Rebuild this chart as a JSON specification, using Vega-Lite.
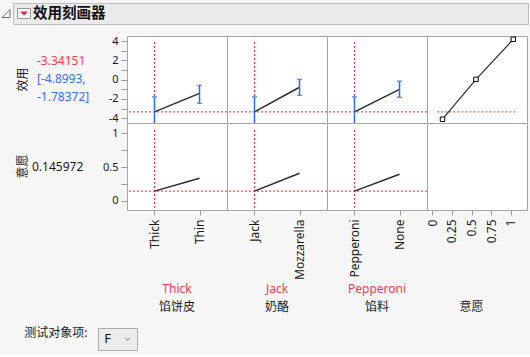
{
  "$schema": "https://vega.github.io/schema/vega-lite/v6.json",
  "background": "#f6f6f6",
  "padding": {"left": 0, "top": 2, "right": 3, "bottom": 4},
  "config": {
    "font": "Noto Sans, Noto Sans CJK SC, sans-serif",
    "view": {"stroke": "#a6a6a6", "fill": "white", "strokeWidth": 1},
    "axis": {"domain": false, "grid": false, "tickColor": "#9a9a9a", "tickSize": 6, "labelFontSize": 12, "labelColor": "#1a1a1a", "labelPadding": 3, "labelFlush": false, "labelOverlap": false, "titleFontWeight": "normal"},
    "axisX": {"tickSize": 5, "labelPadding": 4},
    "axisY": {"labelFontSize": 11}
  },
  "datasets": {
    "levels": [
      {"factor": "馅饼皮", "level": "Thick", "utility": -3.34151, "lower": -4.8993, "upper": -1.78372, "willingness": 0.145972, "current": true},
      {"factor": "馅饼皮", "level": "Thin", "utility": -1.42, "lower": -2.45, "upper": -0.6, "willingness": 0.335, "current": false},
      {"factor": "奶酪", "level": "Jack", "utility": -3.34151, "lower": -4.8993, "upper": -1.78372, "willingness": 0.145972, "current": true},
      {"factor": "奶酪", "level": "Mozzarella", "utility": -0.79, "lower": -1.62, "upper": 0.03, "willingness": 0.41, "current": false},
      {"factor": "馅料", "level": "Pepperoni", "utility": -3.34151, "lower": -4.8993, "upper": -1.78372, "willingness": 0.145972, "current": true},
      {"factor": "馅料", "level": "None", "utility": -1.0, "lower": -1.83, "upper": -0.17, "willingness": 0.394, "current": false}
    ],
    "curve": [
      {"willingness": 0.13, "utility": -4.1},
      {"willingness": 0.557, "utility": 0.03},
      {"willingness": 1.033, "utility": 4.18}
    ]
  },
  "spacing": 9,
  "vconcat": [
    {
      "spacing": 0,
      "hconcat": [
        {
          "width": 12, "height": 21,
          "view": {"stroke": null, "fill": null},
          "data": {"values": [{"item": "toggle"}]},
          "mark": {"type": "point", "shape": "M1,-1L1,1L-1,1Z", "size": 64, "filled": true, "fill": "#f2f2f2", "stroke": "#6f6f6f", "strokeWidth": 1, "opacity": 1}
        },
        {
          "width": 515, "height": 21,
          "view": {"fill": "#ebebeb", "stroke": "#bdbdbd"},
          "data": {"values": [{"item": "icon", "part": "box"}, {"item": "icon", "part": "arrow"}, {"item": "title", "part": "title", "text": "效用刻画器"}]},
          "encoding": {"x": {"field": "item", "type": "nominal", "scale": {"type": "point", "domain": ["icon", "title"], "range": [11, 20], "padding": 0}, "axis": null}},
          "layer": [
            {"transform": [{"filter": "datum.part === 'box'"}], "mark": {"type": "point", "shape": "M-1,-0.77L1,-0.77L1,0.77L-1,0.77Z", "size": 169, "filled": true, "fill": "#f7f7f7", "stroke": "#9a9a9a", "strokeWidth": 1, "opacity": 1}},
            {"transform": [{"filter": "datum.part === 'arrow'"}], "mark": {"type": "point", "shape": "M-1,-0.5L1,-0.5L0,0.5Z", "size": 64, "filled": true, "fill": "#e8283c", "strokeWidth": 0, "opacity": 1}},
            {"transform": [{"filter": "datum.part === 'title'"}], "mark": {"type": "text", "align": "left", "baseline": "middle", "fontSize": 14.5, "fontWeight": "bold", "color": "#111111"}, "encoding": {"text": {"field": "text"}}}
          ]
        }
      ]
    },
    {
      "columns": 5,
      "spacing": 0,
      "bounds": "flush",
      "align": "each",
      "resolve": {"scale": {"color": "independent"}},
      "concat": [
        {
          "width": 127, "height": 87,
          "view": {"stroke": null, "fill": null},
          "data": {"values": [
            {"label": "效用", "kind": "name"},
            {"label": "-3.34151", "kind": "value", "line": 1, "tone": "estimate"},
            {"label": "[-4.8993,", "kind": "value", "line": 2, "tone": "interval"},
            {"label": "-1.78372]", "kind": "value", "line": 3, "tone": "interval"}
          ]},
          "layer": [
            {"transform": [{"filter": "datum.kind === 'name'"}],
             "mark": {"type": "text", "angle": 270, "fontSize": 12, "color": "#1a1a1a", "align": "center", "baseline": "middle"},
             "encoding": {"x": {"field": "kind", "type": "nominal", "scale": {"type": "point", "domain": ["name", "value"], "range": [23, 37], "padding": 0}, "axis": null}, "text": {"field": "label"}}},
            {"transform": [{"filter": "datum.kind === 'value'"}],
             "mark": {"type": "text", "fontSize": 12, "align": "left", "baseline": "middle"},
             "encoding": {
               "x": {"field": "kind", "type": "nominal", "scale": {"type": "point", "domain": ["name", "value"], "range": [23, 37], "padding": 0}, "axis": null},
               "y": {"field": "line", "type": "ordinal", "scale": {"type": "point", "domain": [1, 2, 3], "range": [25, 61], "padding": 0}, "axis": null},
               "color": {"field": "tone", "type": "nominal", "scale": {"domain": ["estimate", "interval"], "range": ["#f03c50", "#3a6ef0"]}, "legend": null},
               "text": {"field": "label"}}}
          ]
        },
        {
          "width": 100, "height": 87,
          "data": {"name": "levels"},
          "transform": [{"filter": "datum.factor === '馅饼皮'"}],
          "layer": [
            {"transform": [{"filter": "datum.current"}], "mark": {"type": "rule", "color": "#e8283c", "strokeWidth": 1, "strokeDash": [2, 2]},
             "encoding": {"x": {"field": "level", "type": "nominal", "scale": {"type": "point", "domain": ["Thick", "Thin"], "padding": 0.611}, "axis": null},
                          "y": {"datum": 3.9, "type": "quantitative", "scale": {"domain": [-4.49, 4.52], "nice": false, "zero": false}, "axis": {"values": [-4, -3, -2, -1, 0, 1, 2, 3, 4], "labelExpr": "datum.value % 2 === 0 ? '' + datum.value : ''", "title": null}},
                          "y2": {"datum": -4.49}}},
            {"transform": [{"filter": "datum.current"}], "mark": {"type": "rule", "color": "#e8283c", "strokeWidth": 1, "strokeDash": [2, 2]},
             "encoding": {"y": {"field": "utility", "type": "quantitative", "scale": {"domain": [-4.49, 4.52], "nice": false, "zero": false}, "axis": {"values": [-4, -3, -2, -1, 0, 1, 2, 3, 4], "labelExpr": "datum.value % 2 === 0 ? '' + datum.value : ''", "title": null}}}},
            {"mark": {"type": "line", "color": "#2b2b2b", "strokeWidth": 1.5},
             "encoding": {"x": {"field": "level", "type": "nominal", "scale": {"type": "point", "domain": ["Thick", "Thin"], "padding": 0.611}, "axis": null},
                          "y": {"field": "utility", "type": "quantitative", "scale": {"domain": [-4.49, 4.52], "nice": false, "zero": false}, "axis": {"values": [-4, -3, -2, -1, 0, 1, 2, 3, 4], "labelExpr": "datum.value % 2 === 0 ? '' + datum.value : ''", "title": null}}}},
            {"mark": {"type": "rule", "color": "#2f6ce6", "strokeWidth": 1.5, "clip": true},
             "encoding": {"x": {"field": "level", "type": "nominal", "scale": {"type": "point", "domain": ["Thick", "Thin"], "padding": 0.611}, "axis": null},
                          "y": {"field": "lower", "type": "quantitative", "scale": {"domain": [-4.49, 4.52], "nice": false, "zero": false}, "axis": {"values": [-4, -3, -2, -1, 0, 1, 2, 3, 4], "labelExpr": "datum.value % 2 === 0 ? '' + datum.value : ''", "title": null}},
                          "y2": {"field": "upper"}}},
            {"mark": {"type": "tick", "color": "#2f6ce6", "size": 5, "thickness": 1.5, "clip": true, "orient": "horizontal"},
             "encoding": {"x": {"field": "level", "type": "nominal", "scale": {"type": "point", "domain": ["Thick", "Thin"], "padding": 0.611}, "axis": null},
                          "y": {"field": "lower", "type": "quantitative", "scale": {"domain": [-4.49, 4.52], "nice": false, "zero": false}, "axis": {"values": [-4, -3, -2, -1, 0, 1, 2, 3, 4], "labelExpr": "datum.value % 2 === 0 ? '' + datum.value : ''", "title": null}}}},
            {"mark": {"type": "tick", "color": "#2f6ce6", "size": 5, "thickness": 1.5, "clip": true, "orient": "horizontal"},
             "encoding": {"x": {"field": "level", "type": "nominal", "scale": {"type": "point", "domain": ["Thick", "Thin"], "padding": 0.611}, "axis": null},
                          "y": {"field": "upper", "type": "quantitative", "scale": {"domain": [-4.49, 4.52], "nice": false, "zero": false}, "axis": {"values": [-4, -3, -2, -1, 0, 1, 2, 3, 4], "labelExpr": "datum.value % 2 === 0 ? '' + datum.value : ''", "title": null}}}}
          ]
        },
        {
          "width": 100, "height": 87,
          "data": {"name": "levels"},
          "transform": [{"filter": "datum.factor === '奶酪'"}],
          "layer": [
            {"transform": [{"filter": "datum.current"}], "mark": {"type": "rule", "color": "#e8283c", "strokeWidth": 1, "strokeDash": [2, 2]},
             "encoding": {"x": {"field": "level", "type": "nominal", "scale": {"type": "point", "domain": ["Jack", "Mozzarella"], "padding": 0.611}, "axis": null},
                          "y": {"datum": 3.9, "type": "quantitative", "scale": {"domain": [-4.49, 4.52], "nice": false, "zero": false}, "axis": null},
                          "y2": {"datum": -4.49}}},
            {"transform": [{"filter": "datum.current"}], "mark": {"type": "rule", "color": "#e8283c", "strokeWidth": 1, "strokeDash": [2, 2]},
             "encoding": {"y": {"field": "utility", "type": "quantitative", "scale": {"domain": [-4.49, 4.52], "nice": false, "zero": false}, "axis": null}}},
            {"mark": {"type": "line", "color": "#2b2b2b", "strokeWidth": 1.5},
             "encoding": {"x": {"field": "level", "type": "nominal", "scale": {"type": "point", "domain": ["Jack", "Mozzarella"], "padding": 0.611}, "axis": null},
                          "y": {"field": "utility", "type": "quantitative", "scale": {"domain": [-4.49, 4.52], "nice": false, "zero": false}, "axis": null}}},
            {"mark": {"type": "rule", "color": "#2f6ce6", "strokeWidth": 1.5, "clip": true},
             "encoding": {"x": {"field": "level", "type": "nominal", "scale": {"type": "point", "domain": ["Jack", "Mozzarella"], "padding": 0.611}, "axis": null},
                          "y": {"field": "lower", "type": "quantitative", "scale": {"domain": [-4.49, 4.52], "nice": false, "zero": false}, "axis": null},
                          "y2": {"field": "upper"}}},
            {"mark": {"type": "tick", "color": "#2f6ce6", "size": 5, "thickness": 1.5, "clip": true, "orient": "horizontal"},
             "encoding": {"x": {"field": "level", "type": "nominal", "scale": {"type": "point", "domain": ["Jack", "Mozzarella"], "padding": 0.611}, "axis": null},
                          "y": {"field": "lower", "type": "quantitative", "scale": {"domain": [-4.49, 4.52], "nice": false, "zero": false}, "axis": null}}},
            {"mark": {"type": "tick", "color": "#2f6ce6", "size": 5, "thickness": 1.5, "clip": true, "orient": "horizontal"},
             "encoding": {"x": {"field": "level", "type": "nominal", "scale": {"type": "point", "domain": ["Jack", "Mozzarella"], "padding": 0.611}, "axis": null},
                          "y": {"field": "upper", "type": "quantitative", "scale": {"domain": [-4.49, 4.52], "nice": false, "zero": false}, "axis": null}}}
          ]
        },
        {
          "width": 100, "height": 87,
          "data": {"name": "levels"},
          "transform": [{"filter": "datum.factor === '馅料'"}],
          "layer": [
            {"transform": [{"filter": "datum.current"}], "mark": {"type": "rule", "color": "#e8283c", "strokeWidth": 1, "strokeDash": [2, 2]},
             "encoding": {"x": {"field": "level", "type": "nominal", "scale": {"type": "point", "domain": ["Pepperoni", "None"], "padding": 0.611}, "axis": null},
                          "y": {"datum": 3.9, "type": "quantitative", "scale": {"domain": [-4.49, 4.52], "nice": false, "zero": false}, "axis": null},
                          "y2": {"datum": -4.49}}},
            {"transform": [{"filter": "datum.current"}], "mark": {"type": "rule", "color": "#e8283c", "strokeWidth": 1, "strokeDash": [2, 2]},
             "encoding": {"y": {"field": "utility", "type": "quantitative", "scale": {"domain": [-4.49, 4.52], "nice": false, "zero": false}, "axis": null}}},
            {"mark": {"type": "line", "color": "#2b2b2b", "strokeWidth": 1.5},
             "encoding": {"x": {"field": "level", "type": "nominal", "scale": {"type": "point", "domain": ["Pepperoni", "None"], "padding": 0.611}, "axis": null},
                          "y": {"field": "utility", "type": "quantitative", "scale": {"domain": [-4.49, 4.52], "nice": false, "zero": false}, "axis": null}}},
            {"mark": {"type": "rule", "color": "#2f6ce6", "strokeWidth": 1.5, "clip": true},
             "encoding": {"x": {"field": "level", "type": "nominal", "scale": {"type": "point", "domain": ["Pepperoni", "None"], "padding": 0.611}, "axis": null},
                          "y": {"field": "lower", "type": "quantitative", "scale": {"domain": [-4.49, 4.52], "nice": false, "zero": false}, "axis": null},
                          "y2": {"field": "upper"}}},
            {"mark": {"type": "tick", "color": "#2f6ce6", "size": 5, "thickness": 1.5, "clip": true, "orient": "horizontal"},
             "encoding": {"x": {"field": "level", "type": "nominal", "scale": {"type": "point", "domain": ["Pepperoni", "None"], "padding": 0.611}, "axis": null},
                          "y": {"field": "lower", "type": "quantitative", "scale": {"domain": [-4.49, 4.52], "nice": false, "zero": false}, "axis": null}}},
            {"mark": {"type": "tick", "color": "#2f6ce6", "size": 5, "thickness": 1.5, "clip": true, "orient": "horizontal"},
             "encoding": {"x": {"field": "level", "type": "nominal", "scale": {"type": "point", "domain": ["Pepperoni", "None"], "padding": 0.611}, "axis": null},
                          "y": {"field": "upper", "type": "quantitative", "scale": {"domain": [-4.49, 4.52], "nice": false, "zero": false}, "axis": null}}}
          ]
        },
        {
          "width": 100, "height": 87,
          "layer": [
            {"data": {"name": "levels"}, "transform": [{"filter": "datum.current && datum.factor === '馅饼皮'"}],
             "mark": {"type": "rule", "color": "#e8283c", "strokeWidth": 1, "strokeDash": [2, 2]},
             "encoding": {"x": {"datum": 0.064, "type": "quantitative", "scale": {"domain": [-0.068, 1.208], "nice": false, "zero": false}, "axis": null},
                          "x2": {"datum": 1.055},
                          "y": {"field": "utility", "type": "quantitative", "scale": {"domain": [-4.49, 4.52], "nice": false, "zero": false}, "axis": null}}},
            {"data": {"name": "curve"}, "mark": {"type": "line", "color": "#2b2b2b", "strokeWidth": 1.2},
             "encoding": {"x": {"field": "willingness", "type": "quantitative", "scale": {"domain": [-0.068, 1.208], "nice": false, "zero": false}, "axis": null},
                          "y": {"field": "utility", "type": "quantitative", "scale": {"domain": [-4.49, 4.52], "nice": false, "zero": false}, "axis": null}}},
            {"data": {"name": "curve"}, "mark": {"type": "point", "shape": "square", "size": 20, "filled": true, "fill": "white", "stroke": "#000000", "strokeWidth": 1, "opacity": 1},
             "encoding": {"x": {"field": "willingness", "type": "quantitative", "scale": {"domain": [-0.068, 1.208], "nice": false, "zero": false}, "axis": null},
                          "y": {"field": "utility", "type": "quantitative", "scale": {"domain": [-4.49, 4.52], "nice": false, "zero": false}, "axis": null}}}
          ]
        },
        {
          "width": 127, "height": 87,
          "view": {"stroke": null, "fill": null},
          "data": {"values": [
            {"label": "意愿", "kind": "name"},
            {"label": "0.145972", "kind": "value"}
          ]},
          "layer": [
            {"transform": [{"filter": "datum.kind === 'name'"}],
             "mark": {"type": "text", "angle": 270, "fontSize": 12, "color": "#1a1a1a", "align": "center", "baseline": "middle"},
             "encoding": {"x": {"field": "kind", "type": "nominal", "scale": {"type": "point", "domain": ["name", "value"], "range": [23, 32], "padding": 0}, "axis": null}, "text": {"field": "label"}}},
            {"transform": [{"filter": "datum.kind === 'value'"}],
             "mark": {"type": "text", "fontSize": 12, "color": "#1a1a1a", "align": "left", "baseline": "middle"},
             "encoding": {"x": {"field": "kind", "type": "nominal", "scale": {"type": "point", "domain": ["name", "value"], "range": [23, 32], "padding": 0}, "axis": null}, "text": {"field": "label"}}}
          ]
        },
        {
          "width": 100, "height": 87,
          "data": {"name": "levels"},
          "transform": [{"filter": "datum.factor === '馅饼皮'"}],
          "layer": [
            {"transform": [{"filter": "datum.current"}], "mark": {"type": "rule", "color": "#e8283c", "strokeWidth": 1, "strokeDash": [2, 2]},
             "encoding": {"x": {"field": "level", "type": "nominal", "scale": {"type": "point", "domain": ["Thick", "Thin"], "padding": 0.611}, "axis": {"title": null, "labelAngle": -90}},
                          "y": {"datum": 1.05, "type": "quantitative", "scale": {"domain": [-0.133, 1.152], "nice": false, "zero": false}, "axis": {"values": [0, 0.25, 0.5, 0.75, 1], "labelExpr": "(datum.value === 0 || datum.value === 0.5 || datum.value === 1) ? '' + datum.value : ''", "title": null}},
                          "y2": {"datum": -0.133}}},
            {"transform": [{"filter": "datum.current"}], "mark": {"type": "rule", "color": "#e8283c", "strokeWidth": 1, "strokeDash": [2, 2]},
             "encoding": {"y": {"field": "willingness", "type": "quantitative", "scale": {"domain": [-0.133, 1.152], "nice": false, "zero": false}, "axis": {"values": [0, 0.25, 0.5, 0.75, 1], "labelExpr": "(datum.value === 0 || datum.value === 0.5 || datum.value === 1) ? '' + datum.value : ''", "title": null}}}},
            {"mark": {"type": "line", "color": "#2b2b2b", "strokeWidth": 1.5},
             "encoding": {"x": {"field": "level", "type": "nominal", "scale": {"type": "point", "domain": ["Thick", "Thin"], "padding": 0.611}, "axis": {"title": null, "labelAngle": -90}},
                          "y": {"field": "willingness", "type": "quantitative", "scale": {"domain": [-0.133, 1.152], "nice": false, "zero": false},
                                "axis": {"values": [0, 0.25, 0.5, 0.75, 1], "labelExpr": "(datum.value === 0 || datum.value === 0.5 || datum.value === 1) ? '' + datum.value : ''", "title": null}}}}
          ]
        },
        {
          "width": 100, "height": 87,
          "data": {"name": "levels"},
          "transform": [{"filter": "datum.factor === '奶酪'"}],
          "layer": [
            {"transform": [{"filter": "datum.current"}], "mark": {"type": "rule", "color": "#e8283c", "strokeWidth": 1, "strokeDash": [2, 2]},
             "encoding": {"x": {"field": "level", "type": "nominal", "scale": {"type": "point", "domain": ["Jack", "Mozzarella"], "padding": 0.611}, "axis": {"title": null, "labelAngle": -90}},
                          "y": {"datum": 1.05, "type": "quantitative", "scale": {"domain": [-0.133, 1.152], "nice": false, "zero": false}, "axis": null},
                          "y2": {"datum": -0.133}}},
            {"transform": [{"filter": "datum.current"}], "mark": {"type": "rule", "color": "#e8283c", "strokeWidth": 1, "strokeDash": [2, 2]},
             "encoding": {"y": {"field": "willingness", "type": "quantitative", "scale": {"domain": [-0.133, 1.152], "nice": false, "zero": false}, "axis": null}}},
            {"mark": {"type": "line", "color": "#2b2b2b", "strokeWidth": 1.5},
             "encoding": {"x": {"field": "level", "type": "nominal", "scale": {"type": "point", "domain": ["Jack", "Mozzarella"], "padding": 0.611}, "axis": {"title": null, "labelAngle": -90}},
                          "y": {"field": "willingness", "type": "quantitative", "scale": {"domain": [-0.133, 1.152], "nice": false, "zero": false}, "axis": null}}}
          ]
        },
        {
          "width": 100, "height": 87,
          "data": {"name": "levels"},
          "transform": [{"filter": "datum.factor === '馅料'"}],
          "layer": [
            {"transform": [{"filter": "datum.current"}], "mark": {"type": "rule", "color": "#e8283c", "strokeWidth": 1, "strokeDash": [2, 2]},
             "encoding": {"x": {"field": "level", "type": "nominal", "scale": {"type": "point", "domain": ["Pepperoni", "None"], "padding": 0.611}, "axis": {"title": null, "labelAngle": -90}},
                          "y": {"datum": 1.05, "type": "quantitative", "scale": {"domain": [-0.133, 1.152], "nice": false, "zero": false}, "axis": null},
                          "y2": {"datum": -0.133}}},
            {"transform": [{"filter": "datum.current"}], "mark": {"type": "rule", "color": "#e8283c", "strokeWidth": 1, "strokeDash": [2, 2]},
             "encoding": {"y": {"field": "willingness", "type": "quantitative", "scale": {"domain": [-0.133, 1.152], "nice": false, "zero": false}, "axis": null}}},
            {"mark": {"type": "line", "color": "#2b2b2b", "strokeWidth": 1.5},
             "encoding": {"x": {"field": "level", "type": "nominal", "scale": {"type": "point", "domain": ["Pepperoni", "None"], "padding": 0.611}, "axis": {"title": null, "labelAngle": -90}},
                          "y": {"field": "willingness", "type": "quantitative", "scale": {"domain": [-0.133, 1.152], "nice": false, "zero": false}, "axis": null}}}
          ]
        },
        {
          "width": 100, "height": 87,
          "data": {"values": []},
          "mark": {"type": "rule"},
          "encoding": {"x": {"field": "willingness", "type": "quantitative", "scale": {"domain": [-0.068, 1.208], "nice": false, "zero": false},
                             "axis": {"values": [0, 0.25, 0.5, 0.75, 1], "labelExpr": "'' + datum.value", "title": null, "labelAngle": -90}}}
        },
        {
          "width": 127, "height": 106,
          "view": {"stroke": null, "fill": null},
          "data": {"values": []},
          "mark": {"type": "text"}
        },
        {
          "width": 100, "height": 106,
          "view": {"stroke": null, "fill": null},
          "data": {"values": [{"text": "Thick", "line": 1, "tone": "level"}, {"text": "馅饼皮", "line": 2, "tone": "factor"}]},
          "mark": {"type": "text", "fontSize": 12, "align": "center", "baseline": "middle"},
          "encoding": {
            "y": {"field": "line", "type": "ordinal", "scale": {"type": "point", "domain": [1, 2], "range": [79, 97], "padding": 0}, "axis": null},
            "color": {"field": "tone", "type": "nominal", "scale": {"domain": ["level", "factor"], "range": ["#f03c50", "#1a1a1a"]}, "legend": null},
            "text": {"field": "text"}
          }
        },
        {
          "width": 100, "height": 106,
          "view": {"stroke": null, "fill": null},
          "data": {"values": [{"text": "Jack", "line": 1, "tone": "level"}, {"text": "奶酪", "line": 2, "tone": "factor"}]},
          "mark": {"type": "text", "fontSize": 12, "align": "center", "baseline": "middle"},
          "encoding": {
            "y": {"field": "line", "type": "ordinal", "scale": {"type": "point", "domain": [1, 2], "range": [79, 97], "padding": 0}, "axis": null},
            "color": {"field": "tone", "type": "nominal", "scale": {"domain": ["level", "factor"], "range": ["#f03c50", "#1a1a1a"]}, "legend": null},
            "text": {"field": "text"}
          }
        },
        {
          "width": 100, "height": 106,
          "view": {"stroke": null, "fill": null},
          "data": {"values": [{"text": "Pepperoni", "line": 1, "tone": "level"}, {"text": "馅料", "line": 2, "tone": "factor"}]},
          "mark": {"type": "text", "fontSize": 12, "align": "center", "baseline": "middle"},
          "encoding": {
            "y": {"field": "line", "type": "ordinal", "scale": {"type": "point", "domain": [1, 2], "range": [79, 97], "padding": 0}, "axis": null},
            "color": {"field": "tone", "type": "nominal", "scale": {"domain": ["level", "factor"], "range": ["#f03c50", "#1a1a1a"]}, "legend": null},
            "text": {"field": "text"}
          }
        },
        {
          "width": 100, "height": 106,
          "view": {"stroke": null, "fill": null},
          "data": {"values": [{"text": "意愿", "line": 2, "tone": "factor"}]},
          "mark": {"type": "text", "fontSize": 12, "align": "center", "baseline": "middle"},
          "encoding": {
            "x": {"datum": 0.5, "type": "quantitative", "scale": {"domain": [-0.068, 1.208], "nice": false, "zero": false}, "axis": null},
            "y": {"field": "line", "type": "ordinal", "scale": {"type": "point", "domain": [1, 2], "range": [79, 97], "padding": 0}, "axis": null},
            "color": {"field": "tone", "type": "nominal", "scale": {"domain": ["level", "factor"], "range": ["#f03c50", "#1a1a1a"]}, "legend": null},
            "text": {"field": "text"}
          }
        }
      ]
    },
    {
      "spacing": 0,
      "bounds": "flush",
      "hconcat": [
        {
          "width": 98, "height": 22,
          "view": {"stroke": null, "fill": null},
          "data": {"values": []},
          "mark": {"type": "text"}
        },
        {
          "width": 39, "height": 22,
          "view": {"fill": "#ececec", "stroke": "#adadad"},
          "data": {"values": [{"item": "value", "text": "F", "slot": "subject"}, {"item": "arrow", "slot": "subject"}]},
          "encoding": {
            "x": {"field": "item", "type": "nominal", "scale": {"type": "point", "domain": ["value", "arrow"], "range": [9.5, 29.5], "padding": 0}, "axis": null},
            "y": {"field": "slot", "type": "nominal", "scale": {"type": "point"},
                  "axis": {"labels": false, "ticks": false, "domain": false, "title": "测试对象项:", "titleAngle": 0, "titleAlign": "right", "titleBaseline": "bottom", "titlePadding": 11, "titleFontSize": 12, "titleColor": "#1a1a1a"}}
          },
          "layer": [
            {"transform": [{"filter": "datum.item === 'value'"}], "mark": {"type": "text", "fontSize": 13, "color": "#111111", "align": "center", "baseline": "middle"}, "encoding": {"text": {"field": "text"}}},
            {"transform": [{"filter": "datum.item === 'arrow'"}], "mark": {"type": "point", "shape": "M-1,-0.5L0,0.5L1,-0.5", "size": 20, "filled": false, "stroke": "#6a6a6a", "strokeWidth": 1, "opacity": 1}}
          ]
        }
      ]
    }
  ]
}
